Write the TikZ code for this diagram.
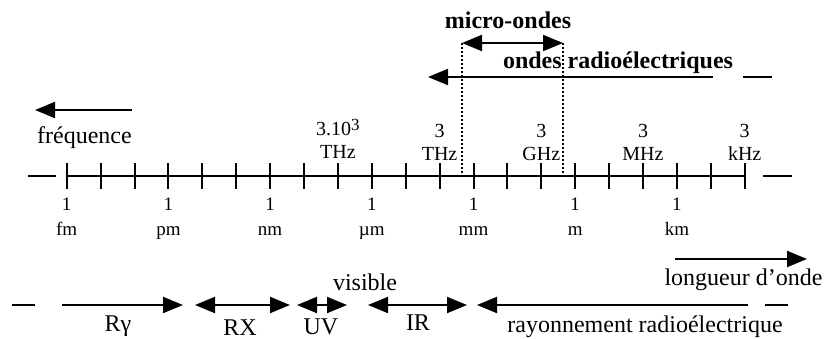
\documentclass[tikz,border=0pt]{standalone}
\usepackage{fontspec}
\setmainfont{Liberation Serif}
\usetikzlibrary{arrows.meta}
\tikzset{
	arr/.style={-{Triangle[length=10pt,width=8pt]}, line width=1pt},
	dblarr/.style={{Triangle[length=10pt,width=8pt]}-{Triangle[length=10pt,width=8pt]}, line width=1pt},
	big/.style={font=\fontsize{12}{14}\selectfont, inner sep=0pt, anchor=base},
	small/.style={font=\fontsize{9.5}{11}\selectfont, inner sep=0pt, anchor=base},
	freqlab/.style={font=\fontsize{10}{12}\selectfont, inner sep=0pt, anchor=base},
}

\begin{document}
\begin{tikzpicture}[x=0.5pt, y=-0.5pt]
				%%%%% START %%%%%
				\useasboundingbox (0,0) rectangle (825,338);
				
				% axe gradue
				\foreach \i in {0,...,20}
					\coordinate (t\i) at (66.7+33.9*\i, 176);
				\coordinate (axL1) at (28, 176);
				\coordinate (axL2) at (56, 176);
				\coordinate (axR1) at (763, 176);
				\coordinate (axR2) at (792, 176);
				\draw[line width=1pt] (axL1) -- (axL2);
				\draw[line width=1pt] (t0) -- (t20);
				\draw[line width=1pt] (axR1) -- (axR2);
				\foreach \i in {0,...,20}
					\draw[line width=1pt] ([yshift=6.5pt]t\i) -- ([yshift=-6.5pt]t\i);
				
				% longueurs d'onde
				\foreach \i/\u [count=\k] in {0/fm, 3/pm, 6/nm, 9/µm, 12/mm, 15/m, 18/km} {
					\node[small] (one\k) at ([yshift=-17pt]t\i) {1};
					\node[small] (len\k) at ([yshift=-29.5pt]t\i) {\u};
				}
				
				% frequences
				\node[freqlab] (thr1) at ([yshift=20.5pt]t8) {3.10\raisebox{2.5pt}{\fontsize{8.5}{10}\selectfont 3}};
				\node[freqlab] (fu1) at ([yshift=9pt]t8) {THz};
				\foreach \i/\u [count=\k from 2] in {11/THz, 14/GHz, 17/MHz, 20/kHz} {
					\node[freqlab] (thr\k) at ([yshift=19.5pt]t\i) {3};
					\node[freqlab] (fu\k) at ([yshift=8pt]t\i) {\u};
				}
				
				% sens des frequences
				\coordinate (fA) at (132, 110);
				\coordinate (fB) at (35, 110);
				\draw[arr] (fA) -- (fB);
				\node[big] (freq) at (84.5, 143) {fréquence};
				
				% micro-ondes
				\coordinate (mwL) at (462, 43);
				\coordinate (mwR) at (563, 43);
				\draw[line width=1pt, densely dotted] (mwL) -- (mwL |- t0);
				\draw[line width=1pt, densely dotted] (mwR) -- (mwR |- t0);
				\draw[dblarr] (mwL) -- (mwR);
				\node[big, font=\fontsize{12}{14}\selectfont\bfseries] (micro) at (508, 28) {micro-ondes};
				
				% ondes radioelectriques
				\coordinate (orA) at (713, 77);
				\coordinate (orB) at (428, 77);
				\coordinate (orC) at (743, 77);
				\coordinate (orD) at (772, 77);
				\draw[arr] (orA) -- (orB);
				\draw[line width=1pt] (orC) -- (orD);
				\node[big, font=\fontsize{12}{14}\selectfont\bfseries] (radio) at (618, 68) {ondes radioélectriques};
				
				% sens des longueurs d'onde
				\coordinate (lA) at (675, 259);
				\coordinate (lB) at (807, 259);
				\draw[arr] (lA) -- (lB);
				\node[big] (lambda) at (743.5, 285) {longueur d’onde};
				
				% domaines
				\coordinate (dL1) at (12, 305);
				\coordinate (dL2) at (35, 305);
				\draw[line width=1pt] (dL1) -- (dL2);
				\coordinate (gA) at (62, 305);
				\coordinate (gB) at (183, 305);
				\draw[arr] (gA) -- (gB);
				\node[big] (gamma) at (118, 331) {Rγ};
				\coordinate (xA) at (195, 305);
				\coordinate (xB) at (290, 305);
				\draw[dblarr] (xA) -- (xB);
				\node[big] (rx) at (240, 335) {RX};
				\coordinate (uA) at (297, 305);
				\coordinate (uB) at (347, 305);
				\draw[dblarr] (uA) -- (uB);
				\node[big] (uv) at (321, 334) {UV};
				\node[big] (vis) at (365, 290) {visible};
				\coordinate (iA) at (368, 305);
				\coordinate (iB) at (467, 305);
				\draw[dblarr] (iA) -- (iB);
				\node[big] (ir) at (418, 330) {IR};
				\coordinate (rA) at (748, 305);
				\coordinate (rB) at (477, 305);
				\draw[arr] (rA) -- (rB);
				\node[big] (ray) at (645, 332) {rayonnement radioélectrique};
				\coordinate (dR1) at (765, 305);
				\coordinate (dR2) at (788, 305);
				\draw[line width=1pt] (dR1) -- (dR2);
				%%%%% END %%%%%
\end{tikzpicture}
\end{document}
